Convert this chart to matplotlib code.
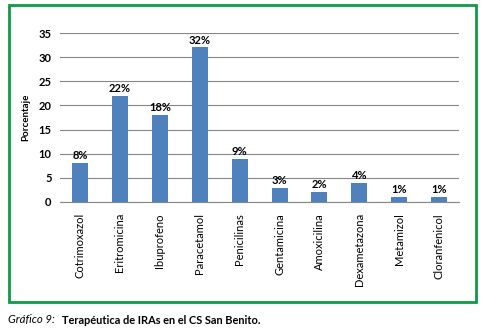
import matplotlib.pyplot as plt
from matplotlib.patches import Rectangle

# Data
categories = ['Cotrimoxazol', 'Eritromicina', 'Ibuprofeno', 'Paracetamol', 'Penicilinas',
              'Gentamicina', 'Amoxicilina', 'Dexametazona', 'Metamizol', 'Cloranfenicol']
values = [8, 22, 18, 32, 9, 3, 2, 4, 1, 1]
yticks = [0, 5, 10, 15, 20, 25, 30, 35]

BAR_COLOR = '#4F81BD'
GREEN = '#0E9A48'
FONT = 'Lato'

plt.rcParams['font.family'] = [FONT, 'DejaVu Sans']

fig = plt.figure(figsize=(4.85, 3.32), dpi=100)
ax = fig.add_axes([0.1237, 0.3916, 0.823, 0.509])

x = range(len(categories))
ax.bar(x, values, width=0.4, color=BAR_COLOR, zorder=3)
for xi, v in zip(x, values):
    ax.text(xi, v + 0.4, f'{v}%', ha='center', va='bottom', fontsize=8, fontweight='bold')

ax.set_xlim(-0.5, len(categories) - 0.5)
ax.set_ylim(0, 35)
ax.set_yticks(yticks)
ax.set_yticklabels([str(t) for t in yticks], fontsize=8, fontweight='bold')
ax.set_xticks(list(x))
ax.set_xticklabels(categories, rotation=90, fontsize=8)
ax.tick_params(axis='both', length=0, pad=6)
ax.tick_params(axis='x', pad=8)
ax.yaxis.grid(True, color='#868686', linewidth=0.8, zorder=0)
for side in ['top', 'right', 'left']:
    ax.spines[side].set_visible(False)
ax.spines['bottom'].set_color('#868686')
ax.set_ylabel('Porcentaje', fontsize=7, fontweight='bold', labelpad=6)

# Green frame around the chart
fig.patches.append(Rectangle((9 / 485, 1 - 302 / 332), 467 / 485, 297 / 332,
                             transform=fig.transFigure, fill=False,
                             edgecolor=GREEN, linewidth=2))

# Caption
fig.text(8 / 485, 1 - 320 / 332, 'Gráfico 9:', fontsize=8.2, style='italic', va='center')
fig.text(62 / 485, 1 - 320 / 332, 'Terapéutica de IRAs en el CS San Benito.',
         fontsize=7.9, fontweight='bold', va='center')

fig.savefig('out.png', dpi=100)
